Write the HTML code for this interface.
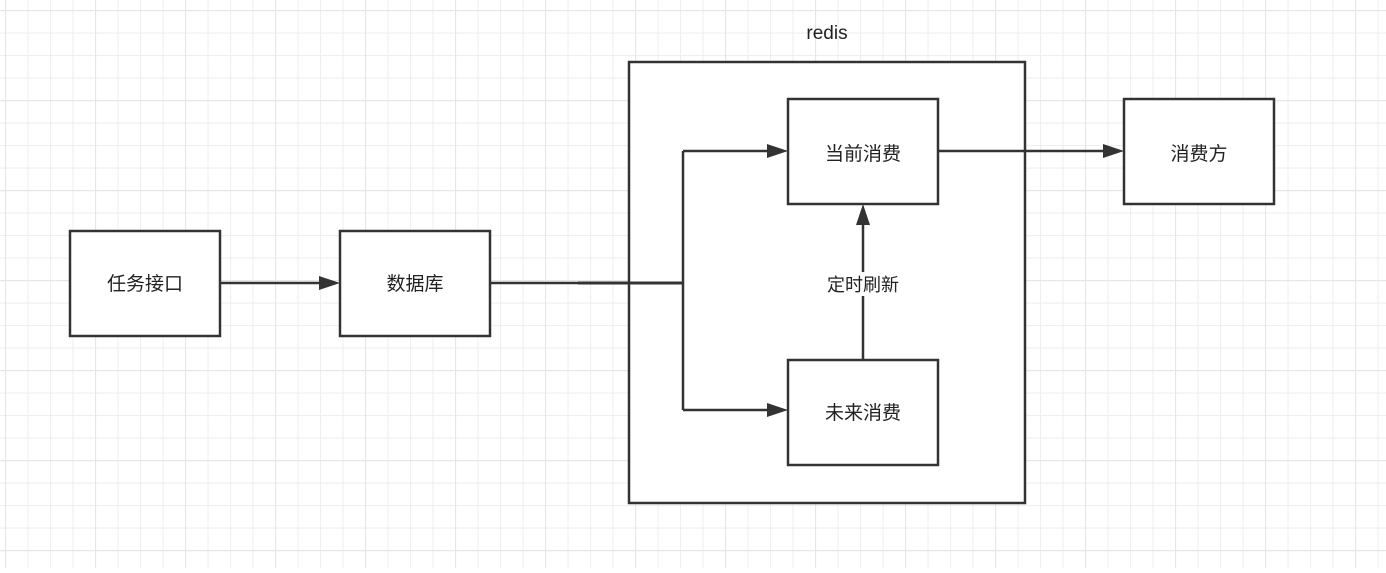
<!DOCTYPE html>
<html><head><meta charset="utf-8"><style>
html,body{margin:0;padding:0;background:#fff;}
body{width:1386px;height:568px;overflow:hidden;}
</style></head><body>
<svg width="1386" height="568" xmlns="http://www.w3.org/2000/svg" font-family="Liberation Sans, Noto Sans CJK SC, sans-serif">
<defs>
<pattern id="g" x="5" y="10" width="22.5" height="22.5" patternUnits="userSpaceOnUse">
<path d="M0 0H22.5M0 0V22.5" stroke="#efefef" stroke-width="2.2" fill="none"/>
</pattern>
<pattern id="G" x="5" y="10" width="90" height="90" patternUnits="userSpaceOnUse">
<path d="M0 0H90M0 0V90" stroke="#e6e6e6" stroke-width="2.2" fill="none"/>
</pattern>
</defs>
<rect width="1386" height="568" fill="url(#g)"/>
<rect width="1386" height="568" fill="url(#G)"/>
<g stroke="#333" stroke-width="2.5" fill="#fff">
<rect x="629" y="62" width="396" height="441"/>
<rect x="70" y="231" width="150" height="105"/>
<rect x="340" y="231" width="150" height="105"/>
<rect x="788" y="99" width="150" height="105"/>
<rect x="788" y="360" width="150" height="105"/>
<rect x="1124" y="99" width="150" height="105"/>
</g>
<g stroke="#333" stroke-width="2.5" fill="none">
<path d="M220 283H320"/>
<path d="M490 283H578"/>
<path d="M578 283H683" stroke-width="3"/>
<path d="M683 283M683 151V410M683 151H768M683 410H768"/>
<path d="M863 360V224"/>
<path d="M938 151H1104"/>
</g>
<g fill="#333">
<path d="M340 283l-21 -7v14z"/>
<path d="M788 151l-21 -7v14z"/>
<path d="M788 410l-21 -7v14z"/>
<path d="M863 204l-7 21h14z"/>
<path d="M1124 151l-21 -7v14z"/>
</g>
<rect x="823" y="272" width="80" height="24" fill="#fff"/>
<g font-size="19" fill="#222" text-anchor="middle">
<text x="145" y="290">任务接口</text>
<text x="415" y="290">数据库</text>
<text x="863" y="160">当前消费</text>
<text x="863" y="419">未来消费</text>
<text x="1199" y="160">消费方</text>
<text x="863" y="291" font-size="18">定时刷新</text>
<text x="827" y="39" font-size="19">redis</text>
</g>
</svg>
</body></html>
